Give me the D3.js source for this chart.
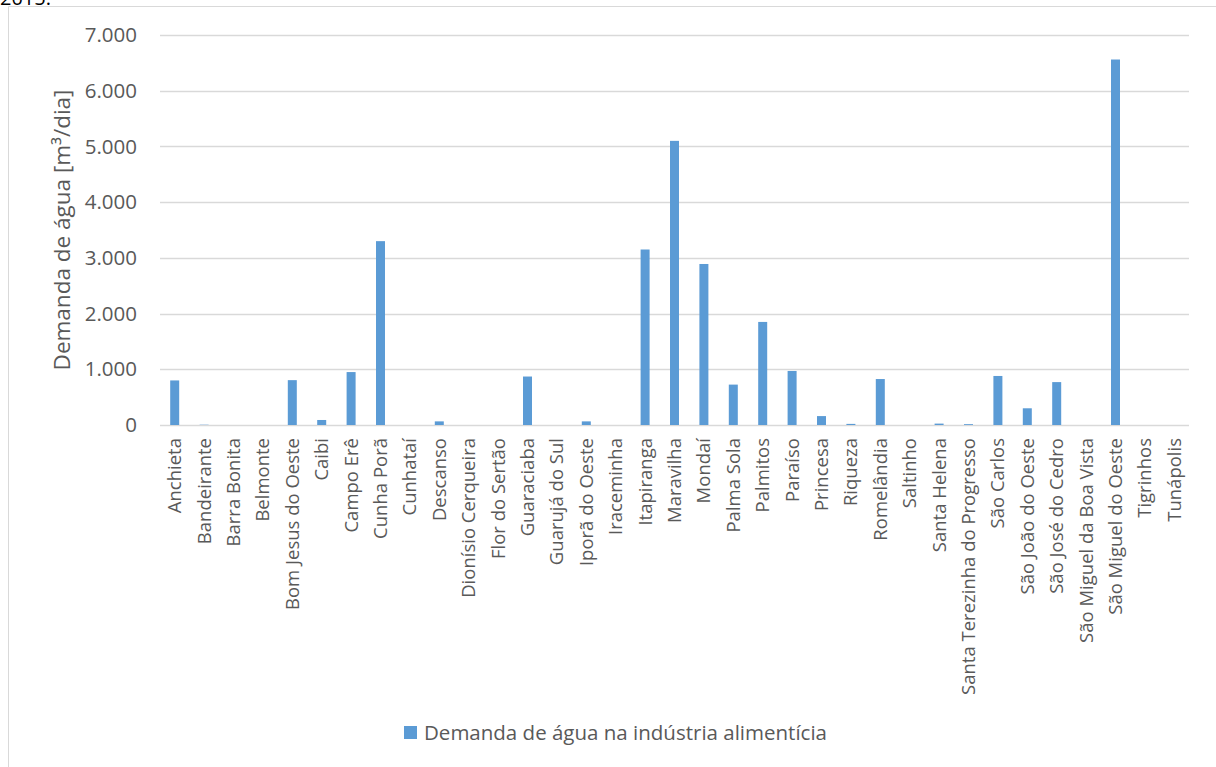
<!DOCTYPE html>
<html>
<head>
<meta charset="utf-8">
<script src="https://cdn.jsdelivr.net/npm/d3@7"></script>
<style>
  body { margin: 0; background: #fff; }
  svg { display: block; font-family: "Open Sans", "Noto Sans", sans-serif; }
</style>
</head>
<body>
<svg id="chart" width="1216" height="767"></svg>
<script>
var municipios = ["Anchieta", "Bandeirante", "Barra Bonita", "Belmonte", "Bom Jesus do Oeste", "Caibi",
    "Campo Erê", "Cunha Porã", "Cunhataí", "Descanso", "Dionísio Cerqueira", "Flor do Sertão",
    "Guaraciaba", "Guarujá do Sul", "Iporã do Oeste", "Iraceminha", "Itapiranga", "Maravilha",
    "Mondaí", "Palma Sola", "Palmitos", "Paraíso", "Princesa", "Riqueza", "Romelândia", "Saltinho",
    "Santa Helena", "Santa Terezinha do Progresso", "São Carlos", "São João do Oeste",
    "São José do Cedro", "São Miguel da Boa Vista", "São Miguel do Oeste", "Tigrinhos", "Tunápolis"];
var demanda = [800, 5, 0, 0, 805, 90,
    950, 3300, 0, 65, 0, 0,
    870, 0, 65, 0, 3150, 5100,
    2890, 725, 1850, 970, 160, 20, 825, 0,
    25, 15, 880, 300,
    770, 0, 6560, 0, 0];
var yTicks = [0, 1000, 2000, 3000, 4000, 5000, 6000, 7000];
var serieNome = "Demanda de água na indústria alimentícia";
var yTitulo = "Demanda de água [m³/dia]";

var svg = d3.select('#chart');
var pLeft = 160, pRight = 1189, pTop = 35, pBottom = 425;

var xs = d3.scaleBand().domain(municipios).range([pLeft, pRight]);
var ys = d3.scaleLinear().domain([0, 7000]).range([pBottom, pTop]);
var fmt = function (v) { return d3.format(',')(v).replace(/,/g, '.'); };

// moldura do grafico
svg.append('path')
    .attr('d', 'M8.5,767 V6.5 H1216')
    .attr('fill', 'none')
    .attr('stroke', '#d9d9d9')
    .attr('stroke-width', 1);

// resto do texto de cima (cortado na imagem original)
svg.append('text')
    .attr('x', 0).attr('y', 5)
    .attr('font-size', 20)
    .attr('fill', '#000')
    .text('2015.');

// grade
svg.append('g').selectAll('line').data(yTicks).enter().append('line')
    .attr('x1', pLeft).attr('x2', pRight)
    .attr('y1', function (d) { return Math.round(ys(d)) + 0.5; })
    .attr('y2', function (d) { return Math.round(ys(d)) + 0.5; })
    .attr('stroke', '#d9d9d9')
    .attr('stroke-width', 1.3);

// rotulos eixo y
svg.append('g').selectAll('text').data(yTicks).enter().append('text')
    .attr('x', 137)
    .attr('y', function (d) { return ys(d); })
    .attr('dy', '0.35em')
    .attr('text-anchor', 'end')
    .attr('font-size', 20.5)
    .attr('fill', '#595959')
    .text(fmt);

svg.append('text')
    .attr('transform', 'translate(70,' + (pTop + pBottom) / 2 + ') rotate(-90)')
    .attr('text-anchor', 'middle')
    .attr('font-size', 22.5)
    .attr('fill', '#595959')
    .text(yTitulo);

// barras
var bw = 9;
svg.append('g').selectAll('rect').data(demanda).enter().append('rect')
    .attr('x', function (d, i) { return xs(municipios[i]) + xs.bandwidth() / 2 - bw / 2; })
    .attr('width', bw)
    .attr('y', function (d) { return ys(d); })
    .attr('height', function (d) { return ys(0) - ys(d); })
    .attr('fill', '#5b9bd5');

// rotulos eixo x
svg.append('g').selectAll('text').data(municipios).enter().append('text')
    .attr('transform', function (d) {
        return 'translate(' + (xs(d) + xs.bandwidth() / 2) + ',438) rotate(-90)';
    })
    .attr('dy', '0.35em')
    .attr('text-anchor', 'end')
    .attr('font-size', 18.5)
    .attr('fill', '#595959')
    .text(function (d) { return d; });

// legenda
var lg = svg.append('g').attr('transform', 'translate(404,726)');
lg.append('rect').attr('width', 13).attr('height', 13).attr('fill', '#5b9bd5');
lg.append('text')
    .attr('x', 20).attr('y', 7)
    .attr('dy', '0.35em')
    .attr('font-size', 20.5)
    .attr('fill', '#595959')
    .text(serieNome);
</script>
</body>
</html>
